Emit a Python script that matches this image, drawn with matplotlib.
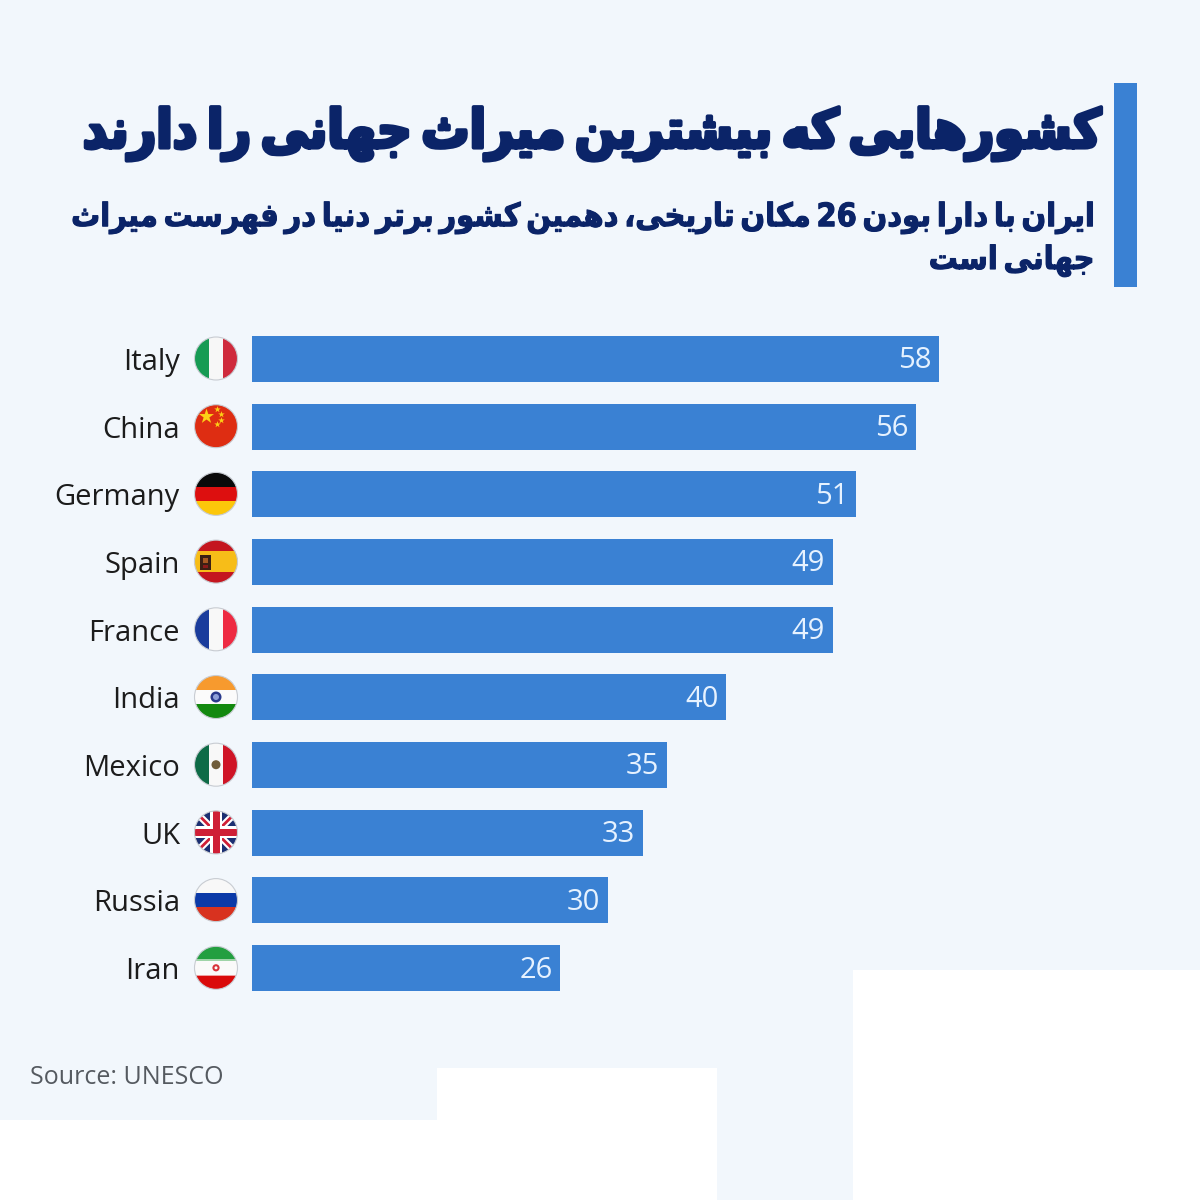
import matplotlib
matplotlib.use('Agg')
import matplotlib.pyplot as plt
import matplotlib.patheffects as pe
from matplotlib.patches import Circle, Rectangle

# values
countries = ['Italy', 'China', 'Germany', 'Spain', 'France', 'India', 'Mexico', 'UK', 'Russia', 'Iran']
sites = [58, 56, 51, 49, 49, 40, 35, 33, 30, 26]

title_text = 'کشورهایی که بیشترین میراث جهانی را دارند'
subtitle_lines = ['ایران با دارا بودن 26 مکان تاریخی، دهمین کشور برتر دنیا در فهرست میراث', 'جهانی است']
source_text = 'Source: UNESCO'

BLUE = '#3a81d3'
NAVY = '#0b2468'
BG = '#f2f7fc'

# presentation forms: isolated, final, initial, medial (matplotlib does no shaping)
FORMS = {
    'ا': (0xFE8D, 0xFE8E), 'د': (0xFEA9, 0xFEAA), 'ر': (0xFEAD, 0xFEAE), 'و': (0xFEED, 0xFEEE),
    'ب': (0xFE8F, 0xFE90, 0xFE91, 0xFE92), 'پ': (0xFB56, 0xFB57, 0xFB58, 0xFB59),
    'ت': (0xFE95, 0xFE96, 0xFE97, 0xFE98), 'ث': (0xFE99, 0xFE9A, 0xFE9B, 0xFE9C),
    'ج': (0xFE9D, 0xFE9E, 0xFE9F, 0xFEA0), 'خ': (0xFEA5, 0xFEA6, 0xFEA7, 0xFEA8),
    'س': (0xFEB1, 0xFEB2, 0xFEB3, 0xFEB4), 'ش': (0xFEB5, 0xFEB6, 0xFEB7, 0xFEB8),
    'ف': (0xFED1, 0xFED2, 0xFED3, 0xFED4), 'ک': (0xFB8E, 0xFB8F, 0xFB90, 0xFB91),
    'م': (0xFEE1, 0xFEE2, 0xFEE3, 0xFEE4), 'ن': (0xFEE5, 0xFEE6, 0xFEE7, 0xFEE8),
    'ه': (0xFEE9, 0xFEEA, 0xFEEB, 0xFEEC), 'ی': (0xFBFC, 0xFBFD, 0xFBFE, 0xFBFF),
}


def shape_word(word):
    out = []
    for i, ch in enumerate(word):
        if ch not in FORMS:
            out.append(ch)
            continue
        prev = word[i - 1] if i > 0 else ''
        nxt = word[i + 1] if i < len(word) - 1 else ''
        joins_prev = prev in FORMS and len(FORMS[prev]) == 4
        joins_next = nxt in FORMS and len(FORMS[ch]) == 4
        if joins_prev and joins_next:
            code = FORMS[ch][3]
        elif joins_prev:
            code = FORMS[ch][1]
        elif joins_next:
            code = FORMS[ch][2]
        else:
            code = FORMS[ch][0]
        out.append(chr(code))
    return ''.join(out)[::-1]


def rtl(text):
    words = [w if w.isdigit() else shape_word(w) for w in text.split(' ')]
    return '\u2009'.join(words[::-1])


fig = plt.figure(figsize=(12, 12), dpi=100, facecolor=BG)

# overlay in pixel coordinates for the decoration
deco = fig.add_axes([0, 0, 1, 1])
deco.set_xlim(0, 1200)
deco.set_ylim(1200, 0)
deco.axis('off')

for x, y, w, h in [(0, 1120, 717, 80), (437, 1068, 280, 132), (853, 970, 347, 230)]:
    deco.add_patch(Rectangle((x, y), w, h, fc='white', ec='none'))
deco.add_patch(Rectangle((1114, 83), 23, 204, fc=BLUE, ec='none'))


def fit_text(t, width_px):
    # DejaVu Arabic runs wide, so size the line to the width it has in the reference
    w = t.get_window_extent(fig.canvas.get_renderer()).width
    t.set_fontsize(t.get_fontsize() * width_px / w)


title = deco.text(1100, 134, rtl(title_text), ha='right', va='center', fontsize=40, fontweight='bold',
                  family='DejaVu Sans', stretch='condensed', color=NAVY,
                  path_effects=[pe.withStroke(linewidth=2.8, foreground=NAVY)])
fit_text(title, 1018)
sub1 = deco.text(1094, 218, rtl(subtitle_lines[0]), ha='right', va='center', fontsize=22, fontweight='bold',
                 family='DejaVu Sans', stretch='condensed', color=NAVY,
                 path_effects=[pe.withStroke(linewidth=0.8, foreground=NAVY)])
fit_text(sub1, 1021)
deco.text(1094, 261, rtl(subtitle_lines[1]), ha='right', va='center', fontsize=sub1.get_fontsize(),
          fontweight='bold', family='DejaVu Sans', stretch='condensed', color=NAVY,
          path_effects=[pe.withStroke(linewidth=0.8, foreground=NAVY)])
deco.text(30, 1078, source_text, ha='left', va='center', fontsize=18, family='Open Sans', color='#555a60')

# bars
ax = fig.add_axes([252 / 1200, 1 - 1002 / 1200, 948 / 1200, 677 / 1200])
ax.patch.set_alpha(0)
bars = ax.barh(range(len(sites)), sites, height=0.68, color=BLUE)
ax.set_xlim(0, 80)
ax.set_ylim(len(sites) - 0.5, -0.5)
ax.set_yticks(range(len(sites)))
ax.set_yticklabels(countries, fontsize=21, family='Open Sans', color='#1c1c1c')
ax.tick_params(axis='y', length=0, pad=72 * 72 / 100)
ax.set_xticks([])
for s in ax.spines.values():
    s.set_visible(False)
for t in ax.bar_label(bars, padding=-5.5, fontsize=21, family='Open Sans', color='#e6f2ff'):
    t.set_ha('right')
    t.xyann = (t.xyann[0], -1.4)


# flags
def rect(cx, cy, clip, x0, y0, x1, y1, color):
    p = Rectangle((cx + x0, cy + y0), x1 - x0, y1 - y0, fc=color, ec='none', zorder=3)
    deco.add_patch(p)
    p.set_clip_path(clip)
    return p


def vstripes(cx, cy, clip, cols):
    w = 43 / len(cols)
    for i, c in enumerate(cols):
        rect(cx, cy, clip, -21.5 + i * w, -22, -21.5 + (i + 1) * w, 22, c)


def hstripes(cx, cy, clip, cols):
    h = 43 / len(cols)
    for i, c in enumerate(cols):
        rect(cx, cy, clip, -22, -21.5 + i * h, 22, -21.5 + (i + 1) * h, c)


def union_jack(cx, cy, clip):
    rect(cx, cy, clip, -22, -22, 22, 22, '#1b2f72')
    for dx, w, c in [(1, 5, 'white'), (-1, 5, 'white'), (1, 2, '#cf1f36'), (-1, 2, '#cf1f36')]:
        ln, = deco.plot([cx - 22, cx + 22], [cy - 22 * dx, cy + 22 * dx], color=c, lw=w, zorder=3)
        ln.set_clip_path(clip)
    rect(cx, cy, clip, -6, -22, 6, 22, 'white')
    rect(cx, cy, clip, -22, -6, 22, 6, 'white')
    rect(cx, cy, clip, -3.5, -22, 3.5, 22, '#cf1f36')
    rect(cx, cy, clip, -22, -3.5, 22, 3.5, '#cf1f36')


def draw_flag(name, cx, cy):
    clip = Circle((cx, cy), 21.5, transform=deco.transData)
    if name == 'Italy':
        vstripes(cx, cy, clip, ['#169b54', '#f7f7f7', '#cf2a3c'])
    elif name == 'China':
        rect(cx, cy, clip, -22, -22, 22, 22, '#de2d12')
        deco.scatter([cx - 10], [cy - 10], s=130, marker='*', color='#fcd116', lw=0, zorder=4)
        deco.scatter([cx + 1, cx + 5, cx + 5, cx + 1], [cy - 17, cy - 12, cy - 6, cy - 2], s=24,
                     marker='*', color='#fcd116', lw=0, zorder=4)
    elif name == 'Germany':
        hstripes(cx, cy, clip, ['#0a0a0a', '#dd0f0f', '#fcc70a'])
    elif name == 'Spain':
        rect(cx, cy, clip, -22, -22, 22, 22, '#c4161f')
        rect(cx, cy, clip, -22, -10.5, 22, 10.5, '#f7bd18')
        rect(cx, cy, clip, -16, -7, -5, 8, '#3c2014')
        rect(cx, cy, clip, -13, -4, -8, 1, '#a85a22')
        rect(cx, cy, clip, -13, 3, -8, 6, '#8a1a1a')
    elif name == 'France':
        vstripes(cx, cy, clip, ['#1a3c9c', '#f8f8f8', '#ee2a42'])
    elif name == 'India':
        hstripes(cx, cy, clip, ['#f79a2e', '#fbfbfb', '#13890f'])
        deco.add_patch(Circle((cx, cy), 5.5, fc='#2a3a8c', ec='none', zorder=4))
        deco.add_patch(Circle((cx, cy), 3, fc='#8fa0d8', ec='none', zorder=5))
    elif name == 'Mexico':
        vstripes(cx, cy, clip, ['#0e6b47', '#f8f8f8', '#cf1426'])
        deco.add_patch(Circle((cx, cy), 4.5, fc='#6f5c3a', ec='none', zorder=4))
    elif name == 'UK':
        union_jack(cx, cy, clip)
    elif name == 'Russia':
        hstripes(cx, cy, clip, ['#f8f8f8', '#0b3aa8', '#d8321f'])
    elif name == 'Iran':
        hstripes(cx, cy, clip, ['#239f40', '#fafafa', '#da0a0a'])
        rect(cx, cy, clip, -22, -8.5, 22, -6.8, '#9fd4a8')
        rect(cx, cy, clip, -22, 6.8, 22, 8.5, '#eda0a0')
        deco.add_patch(Circle((cx, cy), 3.6, fc='#d8323a', ec='none', zorder=4))
        deco.add_patch(Circle((cx, cy), 1.5, fc='#fafafa', ec='none', zorder=5))
    ring = Circle((cx, cy), 21.5, fc='none', ec='#c8ccd2', lw=0.8, zorder=6)
    deco.add_patch(ring)


for i, name in enumerate(countries):
    draw_flag(name, 216, 358.5 + i * 677 / len(countries))

fig.savefig('out.png', dpi=100, facecolor=BG)
